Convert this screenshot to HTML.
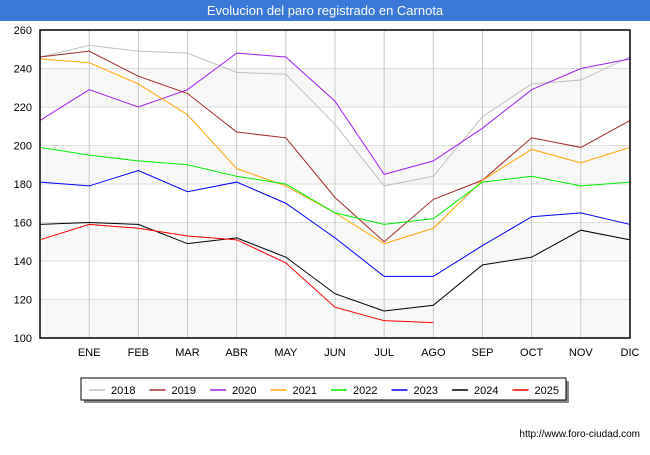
<!DOCTYPE html>
<html><head><meta charset="utf-8"><style>
body{margin:0;width:650px;height:450px;background:#fff;font-family:"Liberation Sans",sans-serif;overflow:hidden}
</style></head><body>
<svg width="650" height="450" font-family="Liberation Sans, sans-serif">
<rect x="0" y="0" width="650" height="21" fill="#3a78d8"/>
<text x="325" y="15" text-anchor="middle" fill="#fff" font-size="13">Evolucion del paro registrado en Carnota</text>
<g id="plot"></g>
<g id="legend"></g>
<text x="640" y="437" text-anchor="end" font-size="10" fill="#000">http://www.foro-ciudad.com</text>
</svg>
<script>
const months=["","ENE","FEB","MAR","ABR","MAY","JUN","JUL","AGO","SEP","OCT","NOV","DIC"];
const yTicks=[100,120,140,160,180,200,220,240,260];
const seriesNames=["2018","2019","2020","2021","2022","2023","2024","2025"];
const seriesColors=["#c0c0c0","#a52a2a","#a020f0","#ffa500","#00ee00","#0000ff","#000000","#ff0000"];
const s2018=[246,252,249,248,238,237,211,179,184,215,232,234,246];
const s2019=[246,249,236,227,207,204,173,150,172,182,204,199,213];
const s2020=[213,229,220,229,248,246,223,185,192,209,229,240,245];
const s2021=[245,243,232,216,188,179,165,149,157,182,198,191,199];
const s2022=[199,195,192,190,184,180,165,159,162,181,184,179,181];
const s2023=[181,179,187,176,181,170,152,132,132,148,163,165,159];
const s2024=[159,160,159,149,152,142,123,114,117,138,142,156,151];
const s2025=[151,159,157,153,151,139,116,109,108];
const allSeries=[s2018,s2019,s2020,s2021,s2022,s2023,s2024,s2025];
const NS="http://www.w3.org/2000/svg";
const L=40,R=630,T=30,B=338,yMin=100,yMax=260;
const xs=i=>L+i*(R-L)/12;
const ys=v=>B-(v-yMin)/(yMax-yMin)*(B-T);
const plot=document.getElementById('plot');
function mk(t,a,p){const e=document.createElementNS(NS,t);for(const k in a)e.setAttribute(k,a[k]);(p||plot).appendChild(e);return e;}
for(let i=0;i<yTicks.length-1;i++){
 if(i%2==0){const b=mk('rect',{x:L,y:ys(yTicks[i+1]),width:R-L,height:ys(yTicks[i])-ys(yTicks[i+1]),fill:'#f8f8f8'});
 
 }
}
yTicks.forEach(v=>{
 const g=mk('line',{x1:L,x2:R,y1:ys(v),y2:ys(v),stroke:'#dddddd','stroke-width':1});
 
 
 const t=mk('text',{x:L-8,y:ys(v)+4,'text-anchor':'end','font-size':11,fill:'#000'});
 t.textContent=v;
 
 
});
months.forEach((m,i)=>{
 if(i==0)return;
 const g=mk('line',{x1:xs(i),x2:xs(i),y1:T,y2:B,stroke:'#c8c8c8','stroke-width':1});
 
 
 const t=mk('text',{x:xs(i),y:B+18,'text-anchor':'middle','font-size':11,fill:'#000'});
 t.textContent=m;
 
 
});
allSeries.forEach((s,k)=>{
 const p=mk('polyline',{points:s.map((v,i)=>xs(i)+','+ys(v)).join(' '),fill:'none',stroke:seriesColors[k],'stroke-width':1});
 
 
});
const fr=mk('rect',{x:L,y:T,width:R-L,height:B-T,fill:'none',stroke:'#000','stroke-width':1.5});


const lg=document.getElementById('legend');


mk('rect',{x:84,y:381,width:485,height:22,fill:'#888'},lg);
mk('rect',{x:81,y:378,width:485,height:22,fill:'#fff',stroke:'#000','stroke-width':1},lg);
seriesNames.forEach((n,k)=>{
 const x0=89+k*60.5;
 const e=mk('g',{},lg);
 
 
 mk('line',{x1:x0,x2:x0+16,y1:390,y2:390,stroke:seriesColors[k],'stroke-width':1.5},e);
 const t=mk('text',{x:x0+22,y:394,'font-size':11,fill:'#000'},e);
 t.textContent=n;
});
</script>
</body></html>
